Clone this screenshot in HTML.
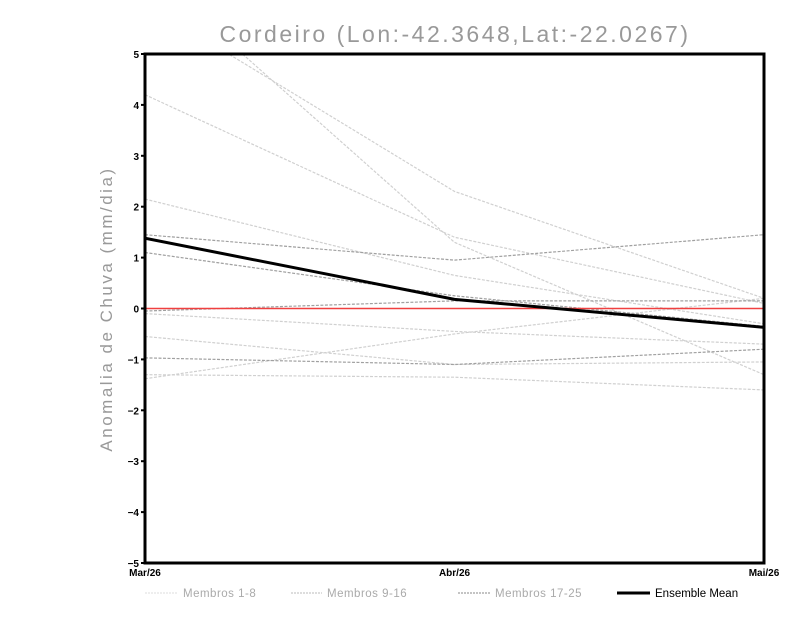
<!DOCTYPE html>
<html><head><meta charset="utf-8"><style>
body{margin:0;background:#fff;font-family:"Liberation Sans",sans-serif}
</style></head><body>
<svg id="chart" width="800" height="618" xmlns="http://www.w3.org/2000/svg">
<rect width="800" height="618" fill="#fff"/>
<text x="455" y="42" text-anchor="middle" font-size="23" fill="#999" font-family="Liberation Sans, sans-serif" letter-spacing="2.5">Cordeiro (Lon:-42.3648,Lat:-22.0267)</text>
<text transform="translate(112,309) rotate(-90)" text-anchor="middle" font-size="17" fill="#999" letter-spacing="2.5">Anomalia de Chuva (mm/dia)</text>
<defs><clipPath id="pc"><rect x="145" y="54" width="619" height="509"/></clipPath></defs>
<g id="series" clip-path="url(#pc)"></g>
<g id="axes"></g>
<g font-size="11.5" fill="#aaa">
<line x1="145" y1="593" x2="178" y2="593" stroke="#ddd" stroke-dasharray="2,1"/>
<text x="183" y="597" letter-spacing="0.5">Membros 1-8</text>
<line x1="291" y1="593" x2="322" y2="593" stroke="#bbb" stroke-dasharray="2,1"/>
<text x="327" y="597" letter-spacing="0.5">Membros 9-16</text>
<line x1="458" y1="593" x2="490" y2="593" stroke="#888" stroke-dasharray="2,1"/>
<text x="495" y="597" letter-spacing="0.5">Membros 17-25</text>
<line x1="617" y1="593" x2="650" y2="593" stroke="#000" stroke-width="3"/>
<text x="655" y="597" fill="#000">Ensemble Mean</text>
</g>
</svg>
<script>
const categories = ["Mar/26","Abr/26","Mai/26"];
const yTicks = [-5,-4,-3,-2,-1,0,1,2,3,4,5];
const membersLight = [[6.0,2.3,0.2],[6.7,1.3,-1.3],[4.2,1.4,0.1],[2.15,0.65,-0.3],[-0.1,-0.45,-0.7],[-0.55,-1.1,-1.05],[-1.3,-1.35,-1.6],[-1.38,-0.5,0.2]];
const membersDark = [[1.45,0.95,1.45],[1.1,0.25,-0.35],[-0.05,0.15,0.15],[-0.97,-1.1,-0.8]];
const ensembleMean = [1.38,0.18,-0.37];
const NS="http://www.w3.org/2000/svg";
const X0=145,X1=764,Y0=563,Y1=54;
const xs=i=>X0+(X1-X0)*i/(categories.length-1);
const ys=v=>Y0-(v+5)/10*(Y0-Y1);
const S=document.getElementById('series'),A=document.getElementById('axes');
function mk(t,a,p){const e=document.createElementNS(NS,t);for(const k in a)e.setAttribute(k,a[k]);p.appendChild(e);return e;}
function line(vals,stroke,w,dash,name){
 const e=mk('polyline',{points:vals.map((v,i)=>xs(i)+','+ys(v)).join(' '),fill:'none',stroke:stroke,'stroke-width':w},S);
 if(dash)e.setAttribute('stroke-dasharray',dash);
 
 
}
membersLight.forEach((m,i)=>line(m,'#d0d0d0',1.2,'3,1.5','member-line-'+(i+1)));
membersDark.forEach((m,i)=>line(m,'#a0a0a0',1.2,'3,1.5','member-line-'+(i+17)));
const z=mk('line',{x1:X0,x2:X1,y1:ys(0),y2:ys(0),stroke:'#f04040','stroke-width':1.5},S);


line(ensembleMean,'#000',3,null,'ensemble-mean-line');
const fr=mk('rect',{x:X0,y:Y1,width:X1-X0,height:Y0-Y1,fill:'none',stroke:'#000','stroke-width':3},A);


yTicks.forEach(v=>{
 mk('line',{x1:X0-4,x2:X0,y1:ys(v),y2:ys(v),stroke:'#000','stroke-width':2},A);
 const t=mk('text',{x:X0-6,y:ys(v)+4,'text-anchor':'end','font-size':10,'font-weight':'bold'},A);
 t.textContent=v<0?'\u2212'+(-v):v;
 
 
});
categories.forEach((c,i)=>{
 const t=mk('text',{x:xs(i),y:576,'text-anchor':'middle','font-size':10,'font-weight':'bold'},A);
 t.textContent=c;
 
 
});
</script>
</body></html>
